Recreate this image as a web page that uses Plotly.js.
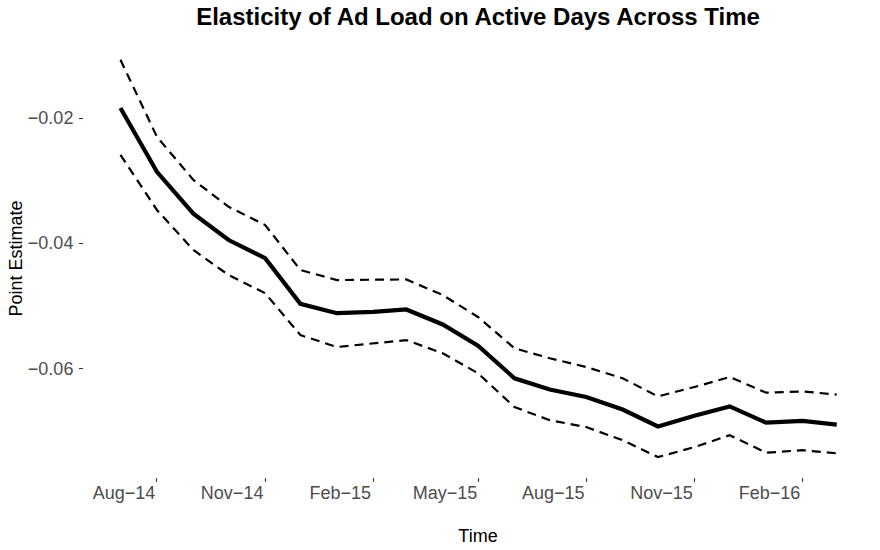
<!DOCTYPE html>
<html>
<head>
<meta charset="utf-8">
<script src="https://cdn.plot.ly/plotly-3.0.1.min.js"></script>
<style>html,body{margin:0;padding:0;background:#fff;}#chart{width:880px;height:550px;}</style>
</head>
<body>
<div id="chart"></div>
<script>
var months = ["2014-07-01","2014-08-01","2014-09-01","2014-10-01","2014-11-01","2014-12-01",
  "2015-01-01","2015-02-01","2015-03-01","2015-04-01","2015-05-01","2015-06-01",
  "2015-07-01","2015-08-01","2015-09-01","2015-10-01","2015-11-01","2015-12-01",
  "2016-01-01","2016-02-01","2016-03-01"];
var pointEstimate = [-0.0184,-0.0286,-0.0353,-0.0395,-0.0424,-0.0497,-0.0512,-0.0510,-0.0506,-0.0530,
  -0.0564,-0.0616,-0.0634,-0.0646,-0.0666,-0.0693,-0.0676,-0.0661,-0.0687,-0.0684,-0.0690];
var upperBound = [-0.0107,-0.0230,-0.0299,-0.0342,-0.0371,-0.0443,-0.0459,-0.0458,-0.0458,-0.0483,
  -0.0518,-0.0568,-0.0584,-0.0598,-0.0616,-0.0645,-0.0630,-0.0614,-0.0639,-0.0637,-0.0642];
var lowerBound = [-0.0259,-0.0347,-0.0411,-0.0451,-0.0480,-0.0547,-0.0566,-0.0560,-0.0555,-0.0576,
  -0.0608,-0.0662,-0.0683,-0.0694,-0.0715,-0.0742,-0.0726,-0.0707,-0.0735,-0.0731,-0.0736];
var xTickVals = ["2014-08-01","2014-11-01","2015-02-01","2015-05-01","2015-08-01","2015-11-01","2016-02-01"];
var xTickText = ["Aug\u221214","Nov\u221214","Feb\u221215","May\u221215","Aug\u221215","Nov\u221215","Feb\u221216"];
var yTickVals = [-0.02,-0.04,-0.06];
var yTickText = ["\u22120.02","\u22120.04","\u22120.06"];

var traces = [
  {x: months, y: upperBound, type: "scatter", mode: "lines", line: {color: "#000", width: 2.2, dash: "9px,6px"}},
  {x: months, y: lowerBound, type: "scatter", mode: "lines", line: {color: "#000", width: 2.2, dash: "9px,6px"}},
  {x: months, y: pointEstimate, type: "scatter", mode: "lines", line: {color: "#000", width: 4.2}}
];

var t0 = new Date("2014-07-01").getTime(), t1 = new Date("2016-03-01").getTime();
var pad = (t1 - t0) * 0.05;

var layout = {
  width: 880, height: 550,
  margin: {l: 84, r: 8, t: 40, b: 73},
  paper_bgcolor: "#fff", plot_bgcolor: "#fff",
  showlegend: false,
  font: {family: "Liberation Sans, Arial, sans-serif", color: "#000"},
  title: {text: "<b>Elasticity of Ad Load on Active Days Across Time</b>", xref: "paper", x: 0.5, xanchor: "center",
    y: 0.969, yanchor: "middle", font: {size: 24, color: "#000"}},
  xaxis: {
    type: "date",
    range: [new Date(t0 - pad).toISOString().slice(0,10), new Date(t1 + pad).toISOString().slice(0,10)],
    tickvals: xTickVals, ticktext: xTickText,
    showgrid: false, zeroline: false, showline: false,
    ticks: "outside", ticklen: 4, tickwidth: 1, tickcolor: "#333",
    ticklabelshift: -33, ticklabelstandoff: -5,
    tickfont: {size: 18, color: "#4d4d4d"},
    title: {text: "Time", font: {size: 18, color: "#000"}, standoff: 27}
  },
  yaxis: {
    range: [-0.07738, -0.00753],
    tickvals: yTickVals, ticktext: yTickText,
    showgrid: false, zeroline: false, showline: false,
    ticks: "outside", ticklen: 4, tickwidth: 1, tickcolor: "#333",
    ticklabelstandoff: 2,
    tickfont: {size: 18, color: "#4d4d4d"},
    title: {text: "Point Estimate", font: {size: 18, color: "#000"}, standoff: 0}
  }
};

Plotly.newPlot("chart", traces, layout, {staticPlot: true, displayModeBar: false});
</script>
</body>
</html>
